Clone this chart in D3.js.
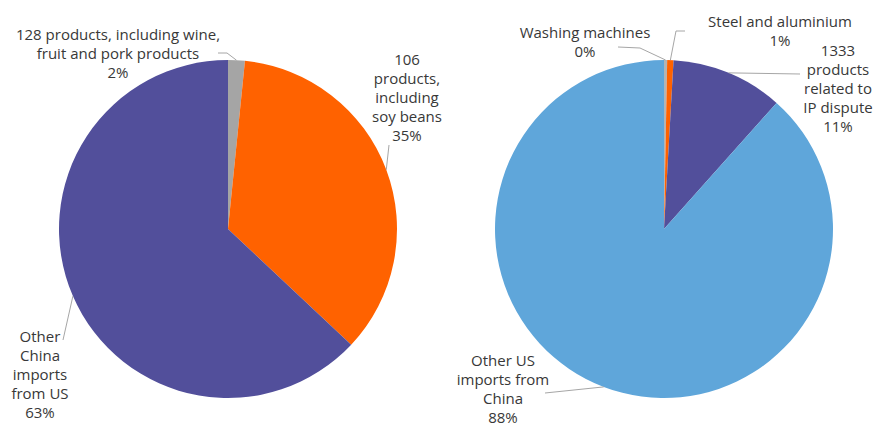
<!DOCTYPE html>
<html>
<head>
<meta charset="utf-8">
<script src="https://cdn.jsdelivr.net/npm/d3@7"></script>
<style>
  body { margin: 0; background: #fff; }
  .lbl { font-family: "Open Sans", "Liberation Sans", Arial, sans-serif; font-size: 15px; fill: #383838; }
</style>
</head>
<body>
<div id="chart-container"></div>
<script>
// left pie: China tariffs on US goods
const leftNames = [
    ["128 products, including wine,", "fruit and pork products"],
    ["106", "products,", "including", "soy beans"],
    ["Other", "China", "imports", "from US"]
];
const leftValues = [1.6, 35.4, 63.0];
const leftColors = ["#a5a5a5", "#ff6200", "#524f9b"];

// right pie: US tariffs on Chinese goods
const rightNames = [
    ["Washing machines"],
    ["Steel and aluminium"],
    ["1333", "products", "related to", "IP dispute"],
    ["Other US", "imports from", "China"]
];
const rightValues = [0.3, 0.6, 10.7, 88.4];
const rightColors = ["#b4b4b4", "#ff6200", "#524f9b", "#5fa6da"];

const width = 875, height = 430;
const radius = 169;
const lineH = 19;

// label placement (text centre x, first baseline y, leader start points)
const leftLayout = [
    { x: 118, y: 40, pts: [[218, 53], [227, 53]] },
    { x: 407, y: 65, pts: [[389, 145]] },
    { x: 40, y: 342, pts: [[63, 340]] }
];
const rightLayout = [
    { x: 585, y: 38, pts: [[618, 47], [640, 48]] },
    { x: 780, y: 27, pts: [[685, 31], [676, 31]] },
    { x: 838, y: 56, pts: [[800, 74]] },
    { x: 503, y: 366, pts: [[545, 393]] }
];

const svg = d3.select("#chart-container").append("svg")
    .attr("width", width)
    .attr("height", height);

const fmt = d3.format(".0%");

function drawPie(cx, cy, names, values, colors, layout) {
    const total = d3.sum(values);
    const pie = d3.pie().sort(null).value(d => d);
    const arcs = pie(values);
    const arc = d3.arc().innerRadius(0).outerRadius(radius);
    const edge = d3.arc().innerRadius(radius).outerRadius(radius);

    const g = svg.append("g").attr("transform", `translate(${cx},${cy})`);

    g.selectAll("path.slice")
        .data(arcs)
        .enter().append("path")
        .attr("class", "slice")
        .attr("d", arc)
        .attr("fill", (d, i) => colors[i]);

    // leader lines
    arcs.forEach((a, i) => {
        const e = edge.centroid(a);
        const pts = layout[i].pts.map(p => [p[0], p[1]]).concat([[e[0] + cx, e[1] + cy]]);
        svg.append("path")
            .attr("d", d3.line()(pts))
            .attr("fill", "none")
            .attr("stroke", "#a6a6a6")
            .attr("stroke-width", 1);
    });

    // labels
    arcs.forEach((a, i) => {
        const lines = names[i].concat([fmt(values[i] / total)]);
        const t = svg.append("text")
            .attr("class", "lbl")
            .attr("text-anchor", "middle");
        lines.forEach((s, j) => {
            t.append("tspan")
                .attr("x", layout[i].x)
                .attr("y", layout[i].y + j * lineH)
                .text(s);
        });
    });
}

drawPie(228, 229, leftNames, leftValues, leftColors, leftLayout);
drawPie(664, 229, rightNames, rightValues, rightColors, rightLayout);
</script>
</body>
</html>
